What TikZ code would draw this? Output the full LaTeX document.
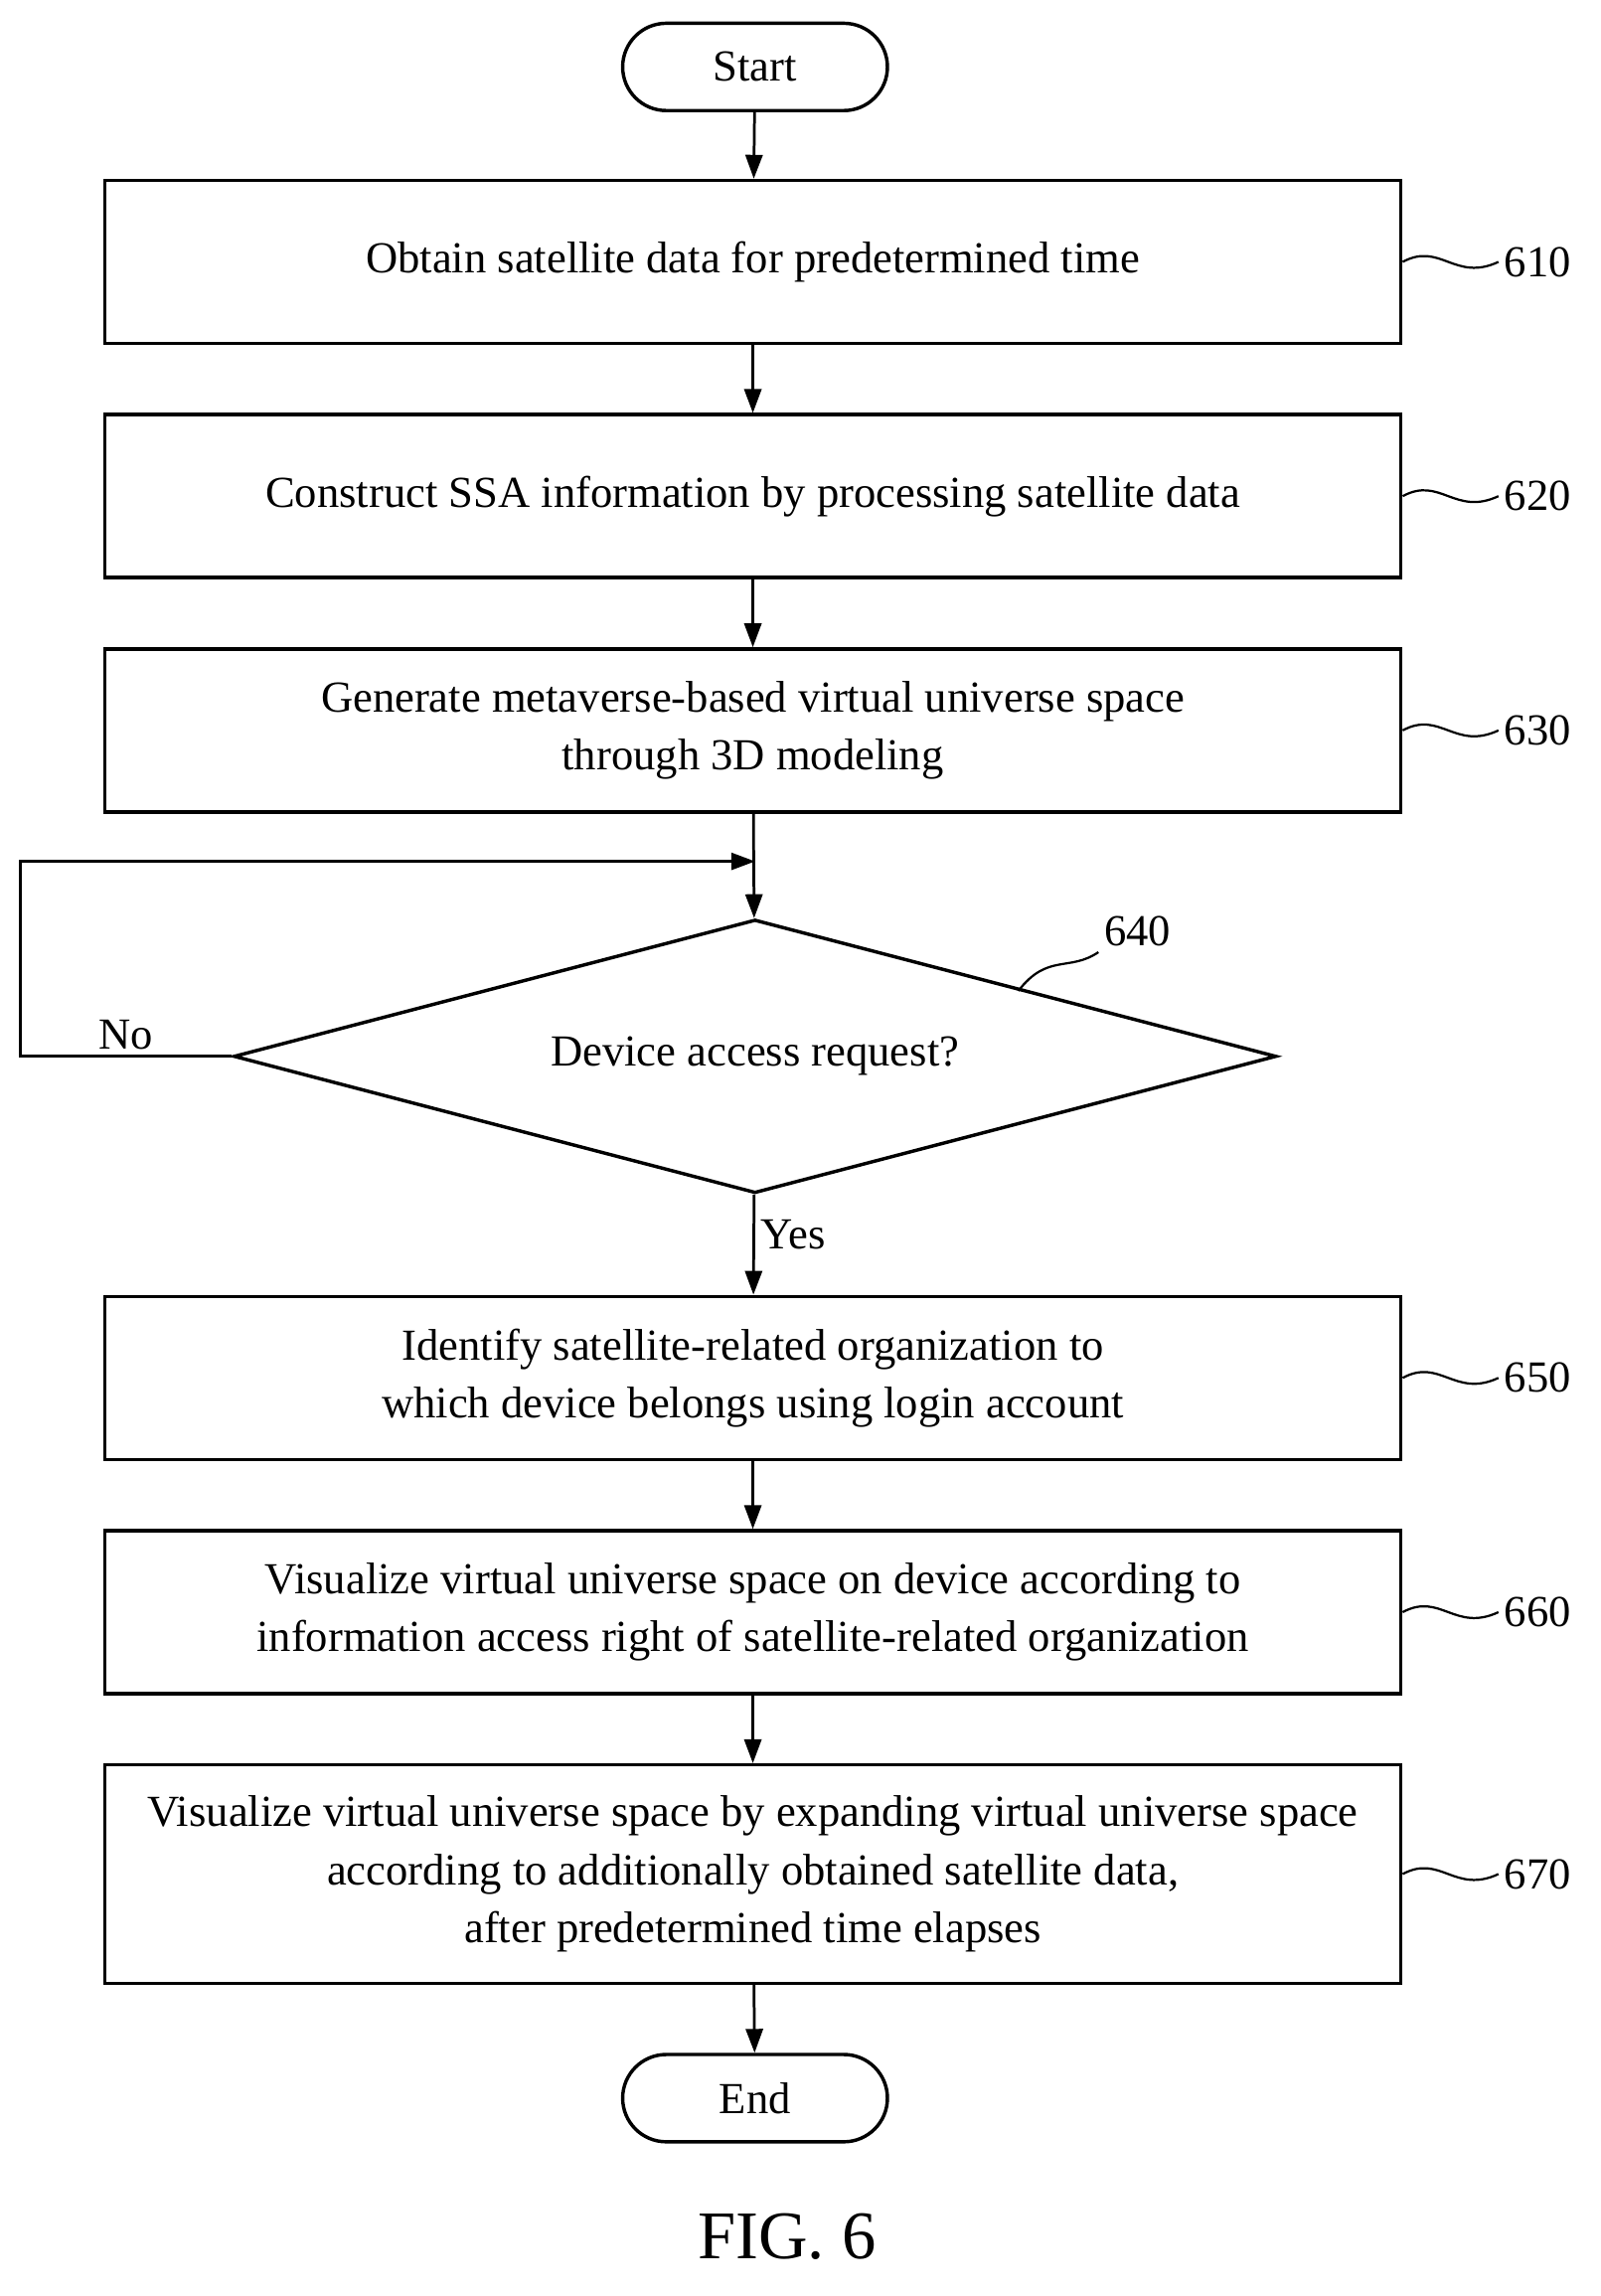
\documentclass[tikz,border=0pt]{standalone}
\usepackage{fontspec}
\setmainfont{Liberation Serif}
\usetikzlibrary{shapes.geometric,arrows.meta}
\tikzset{
  proc/.style = {draw, line width=2pt, minimum width=26.73cm, minimum height=3.36cm, align=center, inner sep=0pt},
  term/.style = {draw, line width=2pt, rounded corners=0.9cm, minimum width=5.46cm, minimum height=1.8cm},
  ask/.style = {draw, line width=2pt, diamond, aspect=3.81, minimum width=21.5cm, minimum height=5.64cm, inner sep=0pt},
  flow/.style = {line width=1.6pt, -{Triangle[length=14pt,width=10pt]}},
  tag/.style = {font=\fontsize{26}{30}\selectfont},
  wave/.style = {line width=1.3pt}
}
\begin{document}
\begin{tikzpicture}[x=0.03cm, y=-0.03cm, font=\fontsize{26}{34}\selectfont]
  \useasboundingbox (0,0) rectangle (1100,1578);
  % terminals and steps
  \node[term] (start) at (519,46) {Start};
  \node[proc] (s610) at (517.5,180) {Obtain satellite data for predetermined time};
  \node[proc] (s620) at (517.5,341) {Construct SSA information by processing satellite data};
  \node[proc] (s630) at (517.5,502) {Generate metaverse-based virtual universe space\\through 3D modeling};
  \node[ask] (q640) at (519,726) {Device access request?};
  \node[proc] (s650) at (517.5,947) {Identify satellite-related organization to\\which device belongs using login account};
  \node[proc] (s660) at (517.5,1108) {Visualize virtual universe space on device according to\\information access right of satellite-related organization};
  \node[proc, minimum height=4.5cm] (s670) at (517.5,1288) {Visualize virtual universe space by expanding virtual universe space\\according to additionally obtained satellite data,\\after predetermined time elapses};
  \node[term] (end) at (519,1442) {End};
  \node[font=\fontsize{40}{44}\selectfont] (fig) at (541,1537) {FIG. 6};
  % connectors
  \draw[flow] (start) -- (s610);
  \draw[flow] (s610) -- (s620);
  \draw[flow] (s620) -- (s630);
  \draw[flow] (s630) -- (q640);
  \draw[flow] (q640) -- node[right, pos=0.4] {Yes} (s650);
  \draw[flow] (s650) -- (s660);
  \draw[flow] (s660) -- (s670);
  \draw[flow] (s670) -- (end);
  \coordinate (loop) at (519,592);
  \draw[flow] (q640.west) -- (14,726) node[pos=0.5, above] {No} -- (14,592) -- (loop);
  % reference numerals
  \foreach \n/\y in {610/180, 620/341, 630/502, 650/947, 660/1108, 670/1288} {
    \node[tag, anchor=west] (l\n) at (1030,\y) {\n};
    \draw[wave] (s\n.east) .. controls (990,\y-14) and (1000,\y+14) .. (l\n.west);
  }
  \node[tag] (l640) at (782,640) {640};
  \draw[wave] (700,681) .. controls (720,655) and (735,668) .. (l640.south west);
\end{tikzpicture}
\end{document}
